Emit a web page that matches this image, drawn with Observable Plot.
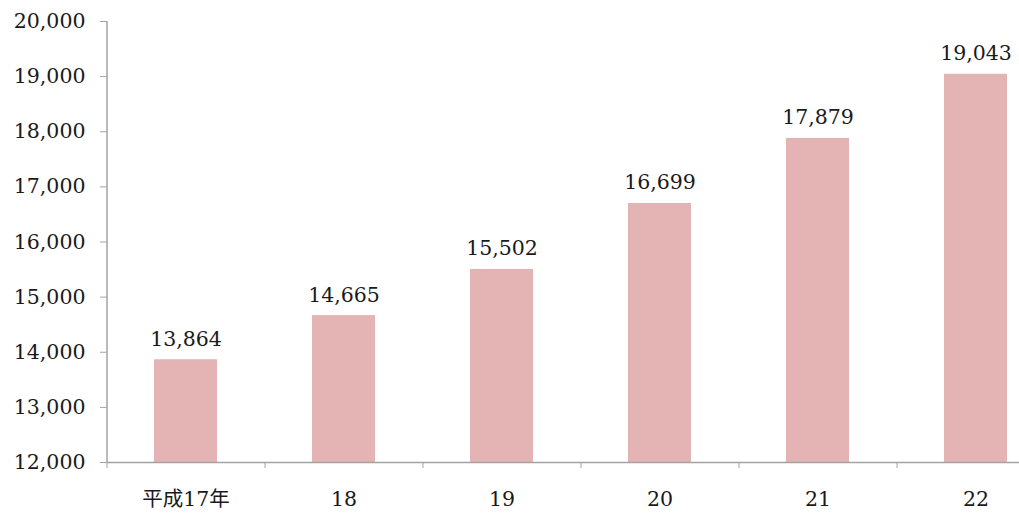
<!DOCTYPE html>
<html>
<head>
<meta charset="utf-8">
<script src="https://cdn.jsdelivr.net/npm/d3@7"></script>
<script src="https://cdn.jsdelivr.net/npm/@observablehq/plot@0.6"></script>
<style>
  html, body { margin: 0; padding: 0; background: #fff; overflow: hidden; }
  #chart svg { display: block; max-width: none !important; }
</style>
</head>
<body>
<div id="chart"></div>
<script>
// Yearly totals, Heisei 17 to 22
const years = ["平成17年", "18", "19", "20", "21", "22"];
const totals = [13864, 14665, 15502, 16699, 17879, 19043];
const yTicks = [12000, 13000, 14000, 15000, 16000, 17000, 18000, 19000, 20000];

const rows = years.map((year, i) => ({year, total: totals[i]}));

const width = 1055, marginLeft = 107, marginRight = 0;
const step = (width - marginLeft - marginRight) / years.length;
const font = "'DejaVu Serif', 'Noto Sans CJK JP', serif";
const axisColor = "#a3a3a3";
const textColor = "#1a1a1a";
const fontSize = 20.5;
const fmt = d3.format(",");

const chart = Plot.plot({
  width,
  height: 513,
  marginLeft,
  marginRight,
  marginTop: 21,
  marginBottom: 51,
  style: {fontFamily: font, fontSize: `${fontSize}px`, color: textColor, background: "#fff"},
  x: {domain: years, paddingInner: 0.6, paddingOuter: 0.3},
  y: {domain: [12000, 20000]},
  marks: [
    Plot.barY(rows, {x: "year", y1: 12000, y2: "total", fill: "#e4b4b4"}),
    Plot.text(rows, {
      x: "year", y: "total", text: d => fmt(d.total),
      lineAnchor: "bottom", dy: -14, fontSize, fill: textColor
    }),
    // value axis
    Plot.ruleX([years[0]], {x: d => d, dx: -step / 2, y1: 12000, y2: 20000, stroke: axisColor, strokeWidth: 1.5}),
    Plot.axisY({ticks: yTicks, tickFormat: fmt, tickSize: 7, tickPadding: 15, stroke: axisColor, fontSize, label: null}),
    // category axis with ticks on the band boundaries
    Plot.ruleY([12000], {stroke: axisColor, strokeWidth: 1.5}),
    Plot.ruleX(years, {x: d => d, dx: -step / 2, y1: 12000, y2: 12000, insetBottom: -6, stroke: axisColor}),
    Plot.axisX({tickSize: 0, tickPadding: 29, fontSize, label: null})
  ]
});

document.getElementById("chart").appendChild(chart);
</script>
</body>
</html>
